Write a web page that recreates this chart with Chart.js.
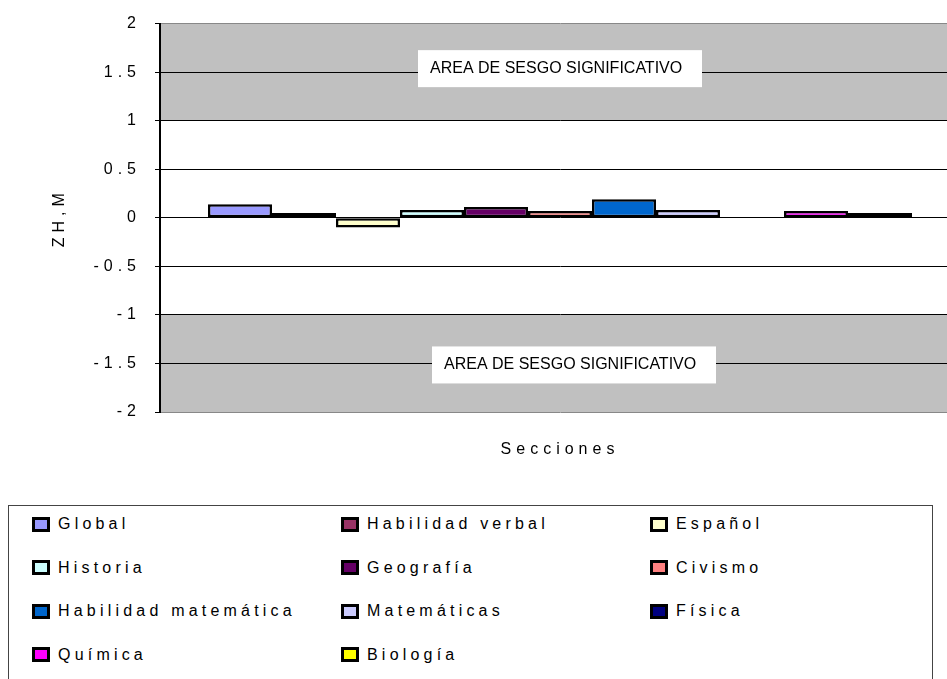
<!DOCTYPE html>
<html>
<head>
<meta charset="utf-8">
<script src="https://cdn.jsdelivr.net/npm/chart.js@4.4.1/dist/chart.umd.min.js"></script>
<style>
  html, body { margin: 0; padding: 0; background: #fff; overflow: hidden; width: 947px; height: 679px; }
  #wrap { position: absolute; left: 0; top: 0; width: 960px; height: 470px; }
  #legend { position: absolute; left: 8px; top: 505px; width: 925px; height: 200px;
            border: 1px solid #444; box-sizing: border-box; background: #fff; }
  .item { position: absolute; display: flex; align-items: center; height: 20px;
          font: 16px "Liberation Sans", Arial, sans-serif; letter-spacing: 4.2px; color: #000; white-space: nowrap; }
  .sw { width: 18px; height: 15px; box-sizing: border-box; border: 3px solid #000; margin-right: 8px; flex: none; }
</style>
</head>
<body>
<div id="wrap"><canvas id="c" width="960" height="470"></canvas></div>
<div id="legend"></div>
<script>
// Standardised bias index (Z H,M) per exam section
const categories = ['Secciones'];
const subjects = ['Global', 'Habilidad verbal', 'Español', 'Historia', 'Geografía', 'Civismo',
                  'Habilidad matemática', 'Matemáticas', 'Física', 'Química', 'Biología'];
const zValues = [0.14, 0.05, -0.10, 0.08, 0.11, 0.07, 0.19, 0.08, 0, 0.07, 0.05];
const subjectColors = ['#9999FF', '#993366', '#FFFFCC', '#CCFFFF', '#660066', '#FF8080',
                       '#0066CC', '#CCCCFF', '#000080', '#FF00FF', '#FFFF00'];
const yTicks = [-2, -1.5, -1, -0.5, 0, 0.5, 1, 1.5, 2];
const biasBands = [[1, 2], [-2, -1]];
const bandLabel = 'AREA DE SESGO SIGNIFICATIVO';

const FONT = '"Liberation Sans", Arial, sans-serif';

// Grey bands marking the significant-bias zones, painted under the grid
const bandsPlugin = {
  id: 'biasBands',
  beforeDraw(chart) {
    const { ctx, chartArea: a, scales: { y } } = chart;
    ctx.letterSpacing = '5px';
    ctx.save();
    ctx.fillStyle = '#C0C0C0';
    biasBands.forEach(([lo, hi]) => {
      const top = y.getPixelForValue(hi);
      const bot = y.getPixelForValue(lo);
      ctx.fillRect(a.left, top, a.right - a.left, bot - top);
    });
    ctx.restore();
  }
};

// White caption boxes inside each band
const labelsPlugin = {
  id: 'biasLabels',
  afterDraw(chart, args, opts) {
    const { ctx, chartArea: a, scales: { y } } = chart;
    ctx.save();
    ctx.letterSpacing = '0px';
    ctx.font = '16px ' + FONT;
    opts.boxes.forEach(b => {
      const cx = (a.left + a.right) / 2 + b.dx;
      const cy = y.getPixelForValue(b.value) + b.dy;
      const w = 284, h = 37;
      ctx.fillStyle = '#fff';
      ctx.fillRect(cx - w / 2, cy - h / 2, w, h);
      ctx.fillStyle = '#000';
      ctx.textBaseline = 'middle';
      ctx.textAlign = 'left';
      ctx.fillText(bandLabel, cx - w / 2 + 12, cy);
    });
    ctx.restore();
  }
};

const chart = new Chart(document.getElementById('c'), {
  type: 'bar',
  data: {
    labels: categories,
    datasets: subjects.map((s, i) => ({
      label: s,
      data: [zValues[i]],
      backgroundColor: subjectColors[i],
      borderColor: '#000',
      borderWidth: 2.5,
      borderSkipped: false
    }))
  },
  options: {
    responsive: false,
    animation: false,
    devicePixelRatio: 1,
    layout: { padding: { top: 20, left: 0, right: 0, bottom: 0 } },
    datasets: { bar: { categoryPercentage: 0.88, barPercentage: 1 } },
    plugins: {
      legend: { display: false },
      tooltip: { enabled: false },
      biasLabels: { boxes: [ { value: 1.5, dx: 0, dy: -3.5 }, { value: -1.5, dx: 14, dy: 1.5 } ] }
    },
    scales: {
      x: {
        ticks: { display: false },
        grid: { display: false },
        border: { display: false },
        title: { display: true, text: 'Secciones', color: '#000',
                 font: { size: 16, family: FONT }, padding: { top: 0, bottom: 11 } },
        afterFit(s) { s.height = 58; }
      },
      y: {
        min: -2, max: 2,
        afterBuildTicks(s) { s.ticks = yTicks.map(v => ({ value: v })); },
        ticks: { color: '#000', font: { size: 16, family: FONT }, padding: 14,
                 callback: v => String(v) },
        grid: {
          color: c => Math.abs(c.tick.value) === 2 ? '#888' : '#000',
          lineWidth: 1, tickLength: 5, tickColor: '#000', tickWidth: 1
        },
        border: { display: true, color: '#000', width: 2 },
        title: { display: true, text: 'ZH,M', color: '#000',
                 font: { size: 16, family: FONT }, padding: { top: 50, bottom: 0 } },
        afterFit(s) { s.width = 160; }
      }
    }
  },
  plugins: [bandsPlugin, labelsPlugin]
});

// Three-column legend box under the chart
const legendEl = document.getElementById('legend');
chart.data.datasets.forEach((ds, i) => {
  const col = i % 3, row = Math.floor(i / 3);
  const item = document.createElement('div');
  item.className = 'item';
  item.style.left = (23 + col * 309) + 'px';
  item.style.top = (8 + row * 43.5) + 'px';
  const sw = document.createElement('span');
  sw.className = 'sw';
  sw.style.background = ds.backgroundColor;
  const txt = document.createElement('span');
  txt.textContent = ds.label;
  item.appendChild(sw);
  item.appendChild(txt);
  legendEl.appendChild(item);
});
</script>
</body>
</html>
